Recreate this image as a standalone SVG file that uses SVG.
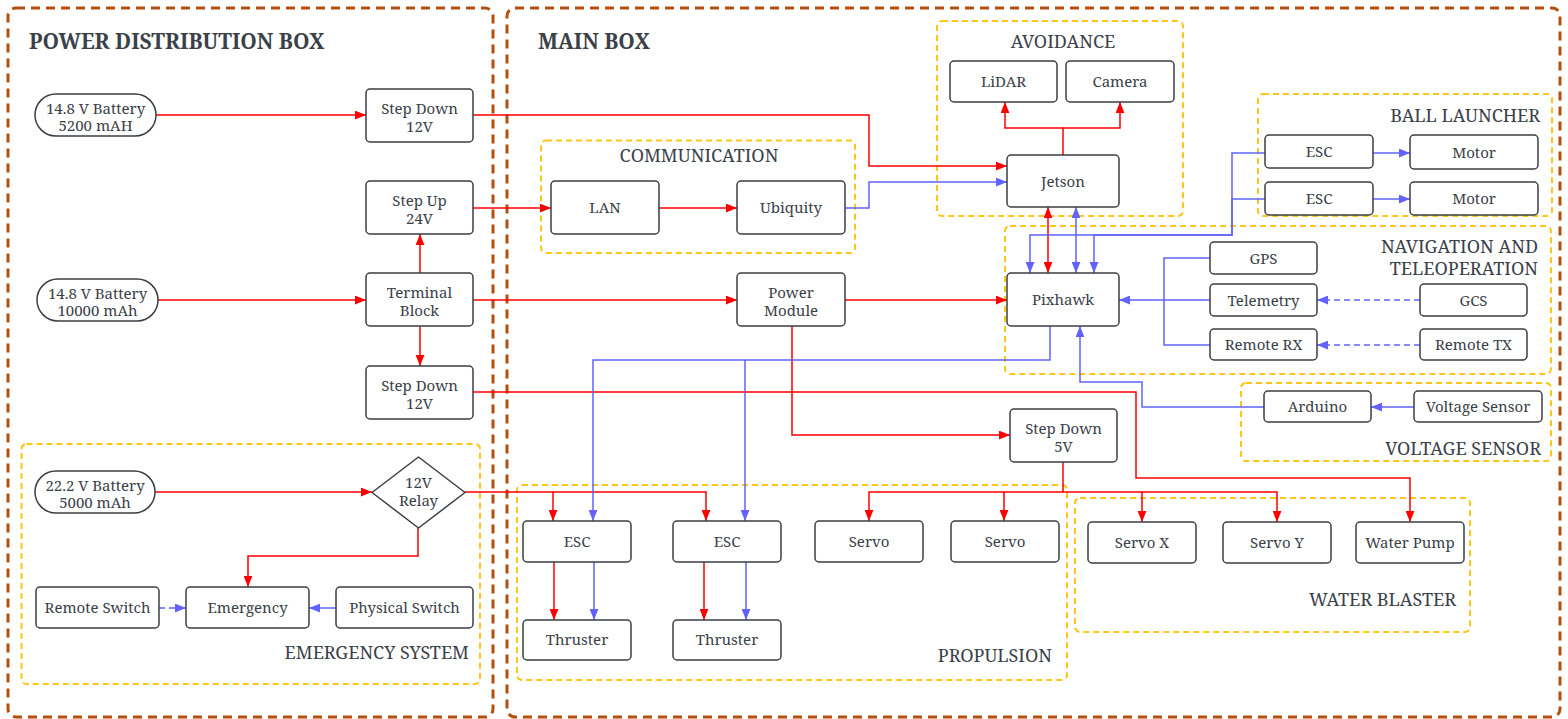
<svg xmlns="http://www.w3.org/2000/svg" width="1568" height="719" viewBox="0 0 1568 719">
<style>
.bg{fill:#ffffff}
.box{fill:#ffffff;stroke:#3a3f46;stroke-width:1.5}
.outer{fill:none;stroke:#b4500f;stroke-width:3;stroke-dasharray:9 6}
.grp{fill:none;stroke:#ffc61a;stroke-width:2;stroke-dasharray:6 4}
text{font-family:"Noto Serif","DejaVu Serif","Liberation Serif",serif;fill:#3b4149}
.t{font-size:15px;text-anchor:middle}
.gl{font-size:18px}
.title{font-size:21px;font-weight:bold}
.r{fill:none;stroke:#ff0000;stroke-width:1.5;marker-end:url(#ar)}
.b{fill:none;stroke:#6262ff;stroke-width:1.5;marker-end:url(#ab)}
.rn{fill:none;stroke:#ff0000;stroke-width:1.5}
.bn{fill:none;stroke:#6262ff;stroke-width:1.5}
.d{stroke-dasharray:6 4}
</style>
<defs>
<marker id="ar" viewBox="0 0 10 8" refX="10" refY="4" markerWidth="11" markerHeight="9" markerUnits="userSpaceOnUse" orient="auto-start-reverse"><path d="M0,0 L10,4 L0,8 z" fill="#ff0000"/></marker>
<marker id="ab" viewBox="0 0 10 8" refX="10" refY="4" markerWidth="11" markerHeight="9" markerUnits="userSpaceOnUse" orient="auto-start-reverse"><path d="M0,0 L10,4 L0,8 z" fill="#6262ff"/></marker>
</defs>
<rect class="bg" x="0" y="0" width="1568" height="719"/>

<g id="containers">
<rect class="outer" x="8" y="8" width="485" height="709" rx="8"/>
<text class="title" x="29" y="49">POWER DISTRIBUTION BOX</text>
<rect class="outer" x="507" y="8" width="1053" height="709" rx="8"/>
<text class="title" x="538" y="49">MAIN BOX</text>
<rect class="grp" x="21.5" y="444" width="458.5" height="240" rx="5"/>
<text class="gl" x="469" y="659" text-anchor="end">EMERGENCY SYSTEM</text>
<rect class="grp" x="541" y="140.5" width="314" height="112.5" rx="5"/>
<text class="gl" x="699" y="162" text-anchor="middle">COMMUNICATION</text>
<rect class="grp" x="937" y="21" width="246" height="195" rx="5"/>
<text class="gl" x="1063" y="48" text-anchor="middle">AVOIDANCE</text>
<rect class="grp" x="1258" y="94" width="294" height="122" rx="5"/>
<text class="gl" x="1540" y="122" text-anchor="end">BALL LAUNCHER</text>
<rect class="grp" x="1005" y="226" width="546" height="148" rx="5"/>
<text class="gl" x="1538" y="253" text-anchor="end">NAVIGATION AND</text>
<text class="gl" x="1538" y="275" text-anchor="end">TELEOPERATION</text>
<rect class="grp" x="1241" y="383" width="310" height="78" rx="5"/>
<text class="gl" x="1541" y="455" text-anchor="end">VOLTAGE SENSOR</text>
<rect class="grp" x="517" y="485" width="550" height="195" rx="5"/>
<text class="gl" x="1052" y="662" text-anchor="end">PROPULSION</text>
<rect class="grp" x="1075" y="498" width="395" height="134" rx="5"/>
<text class="gl" x="1456" y="606" text-anchor="end">WATER BLASTER</text>
</g>

<g id="connectors">
<path class="r" d="M156,115 H366"/>
<path class="r" d="M158,300 H366"/>
<path class="r" d="M420,273 V234"/>
<path class="r" d="M420,326 V366"/>
<path class="r" d="M155,492 H372"/>
<path class="r" d="M418,528 V556 H248 V587"/>
<path class="r" d="M473,115 H869 V166 H1007"/>
<path class="r" d="M473,208 H551"/>
<path class="r" d="M659,208 H737"/>
<path class="r" d="M473,300 H737"/>
<path class="r" d="M845,300 H1007"/>
<path class="r" d="M792,326 V435 H1010"/>
<path class="r" d="M1048,207 V273" marker-start="url(#ar)"/>
<path class="r" d="M1063,155 V128 H1005 V102"/>
<path class="r" d="M1063,128 H1120 V102"/>
<path class="r" d="M465,492 H553 V521"/>
<path class="r" d="M553,492 H706 V521"/>
<path class="r" d="M1063,462 V492 H869 V521"/>
<path class="r" d="M1004,492 V521"/>
<path class="r" d="M1063,492 H1142 V522"/>
<path class="r" d="M1142,492 H1277 V522"/>
<path class="r" d="M473,392 H1136 V478 H1410 V522"/>
<path class="r" d="M554,562 V620"/>
<path class="r" d="M704,562 V620"/>

<path class="b" d="M845,208 H869 V182 H1007"/>
<path class="b" d="M1076,273 V207" marker-start="url(#ab)"/>
<path class="b" d="M1265,153 H1232 V235 H1030 V273"/>
<path class="b" d="M1265,199 H1232 V235 H1094 V273"/>
<path class="bn" d="M1210,258 H1164 V345 H1210"/>
<path class="b" d="M1210,300 H1119"/>
<path class="b d" d="M1420,300 H1317"/>
<path class="b d" d="M1420,345 H1317"/>
<path class="b" d="M1050,326 V360 H593 V521"/>
<path class="b" d="M745,360 V521"/>
<path class="b" d="M1264,407 H1142 V382 H1080 V326"/>
<path class="b" d="M1414,407 H1371"/>
<path class="b" d="M1373,153 H1410"/>
<path class="b" d="M1373,199 H1410"/>
<path class="b" d="M594,562 V620"/>
<path class="b" d="M746,562 V620"/>
<path class="b" d="M336,608 H309"/>
<path class="b d" d="M159,608 H186"/>
</g>

<g id="bat1"><rect class="box" x="35" y="94" width="121" height="42" rx="21"/><text class="t" x="95.5" y="114">14.8 V Battery</text><text class="t" x="95.5" y="131">5200 mAH</text></g>
<g id="sd12a"><rect class="box" x="366" y="89" width="107" height="53" rx="4"/><text class="t" x="419.5" y="114">Step Down</text><text class="t" x="419.5" y="131.5">12V</text></g>
<g id="su24"><rect class="box" x="366" y="181" width="107" height="53" rx="4"/><text class="t" x="419.5" y="206">Step Up</text><text class="t" x="419.5" y="223.5">24V</text></g>
<g id="bat2"><rect class="box" x="37" y="279" width="121" height="42" rx="21"/><text class="t" x="97.5" y="299">14.8 V Battery</text><text class="t" x="97.5" y="316">10000 mAh</text></g>
<g id="tb"><rect class="box" x="366" y="273" width="107" height="53" rx="4"/><text class="t" x="419.5" y="298">Terminal</text><text class="t" x="419.5" y="315.5">Block</text></g>
<g id="sd12b"><rect class="box" x="366" y="366" width="107" height="53" rx="4"/><text class="t" x="419.5" y="391">Step Down</text><text class="t" x="419.5" y="408.5">12V</text></g>
<g id="bat3"><rect class="box" x="35" y="471" width="120" height="42" rx="21"/><text class="t" x="95" y="491">22.2 V Battery</text><text class="t" x="95" y="508">5000 mAh</text></g>
<g id="relay"><path class="box" d="M372,492.5 L418.5,457 L465,492.5 L418.5,528 Z" stroke-linejoin="round"/><text class="t" x="418.5" y="488">12V</text><text class="t" x="418.5" y="505.5">Relay</text></g>
<g id="rsw"><rect class="box" x="36" y="587" width="123" height="41" rx="4"/><text class="t" x="97.5" y="613">Remote Switch</text></g>
<g id="emg"><rect class="box" x="186" y="587" width="123" height="41" rx="4"/><text class="t" x="247.5" y="613">Emergency</text></g>
<g id="psw"><rect class="box" x="336" y="587" width="137" height="41" rx="4"/><text class="t" x="404.5" y="613">Physical Switch</text></g>

<g id="lan"><rect class="box" x="551" y="181" width="108" height="53" rx="4"/><text class="t" x="605" y="213">LAN</text></g>
<g id="ubq"><rect class="box" x="737" y="181" width="108" height="53" rx="4"/><text class="t" x="791" y="213">Ubiquity</text></g>
<g id="pm"><rect class="box" x="737" y="273" width="108" height="53" rx="4"/><text class="t" x="791" y="298">Power</text><text class="t" x="791" y="315.5">Module</text></g>
<g id="lidar"><rect class="box" x="950" y="61" width="107" height="41" rx="4"/><text class="t" x="1003.5" y="87">LiDAR</text></g>
<g id="camera"><rect class="box" x="1066" y="61" width="108" height="41" rx="4"/><text class="t" x="1120" y="87">Camera</text></g>
<g id="jetson"><rect class="box" x="1007" y="155" width="112" height="52" rx="4"/><text class="t" x="1063" y="186.5">Jetson</text></g>
<g id="pixhawk"><rect class="box" x="1007" y="273" width="112" height="53" rx="4"/><text class="t" x="1063" y="305">Pixhawk</text></g>
<g id="esc_bl1"><rect class="box" x="1265" y="135" width="108" height="33" rx="4"/><text class="t" x="1319" y="157">ESC</text></g>
<g id="esc_bl2"><rect class="box" x="1265" y="182" width="108" height="33" rx="4"/><text class="t" x="1319" y="204">ESC</text></g>
<g id="motor1"><rect class="box" x="1410" y="135" width="128" height="34" rx="4"/><text class="t" x="1474" y="157.5">Motor</text></g>
<g id="motor2"><rect class="box" x="1410" y="182" width="128" height="33" rx="4"/><text class="t" x="1474" y="204">Motor</text></g>
<g id="gps"><rect class="box" x="1210" y="242" width="107" height="32" rx="4"/><text class="t" x="1263.5" y="263.5">GPS</text></g>
<g id="telemetry"><rect class="box" x="1210" y="284" width="107" height="32" rx="4"/><text class="t" x="1263.5" y="305.5">Telemetry</text></g>
<g id="remoterx"><rect class="box" x="1210" y="329" width="107" height="31" rx="4"/><text class="t" x="1263.5" y="350">Remote RX</text></g>
<g id="gcs"><rect class="box" x="1420" y="284" width="107" height="32" rx="4"/><text class="t" x="1473.5" y="305.5">GCS</text></g>
<g id="remotetx"><rect class="box" x="1420" y="329" width="107" height="31" rx="4"/><text class="t" x="1473.5" y="350">Remote TX</text></g>
<g id="arduino"><rect class="box" x="1264" y="391" width="107" height="31" rx="4"/><text class="t" x="1317.5" y="412">Arduino</text></g>
<g id="vsensor"><rect class="box" x="1414" y="391" width="128" height="31" rx="4"/><text class="t" x="1478" y="412">Voltage Sensor</text></g>
<g id="sd5"><rect class="box" x="1010" y="409" width="107" height="53" rx="4"/><text class="t" x="1063.5" y="434">Step Down</text><text class="t" x="1063.5" y="451.5">5V</text></g>
<g id="esc1"><rect class="box" x="523" y="521" width="108" height="41" rx="4"/><text class="t" x="577" y="547">ESC</text></g>
<g id="esc2"><rect class="box" x="673" y="521" width="108" height="41" rx="4"/><text class="t" x="727" y="547">ESC</text></g>
<g id="servo1"><rect class="box" x="815" y="521" width="108" height="41" rx="4"/><text class="t" x="869" y="547">Servo</text></g>
<g id="servo2"><rect class="box" x="951" y="521" width="108" height="41" rx="4"/><text class="t" x="1005" y="547">Servo</text></g>
<g id="thr1"><rect class="box" x="523" y="620" width="108" height="40" rx="4"/><text class="t" x="577" y="645">Thruster</text></g>
<g id="thr2"><rect class="box" x="673" y="620" width="108" height="40" rx="4"/><text class="t" x="727" y="645">Thruster</text></g>
<g id="servox"><rect class="box" x="1088" y="522" width="108" height="41" rx="4"/><text class="t" x="1142" y="548">Servo X</text></g>
<g id="servoy"><rect class="box" x="1223" y="522" width="108" height="41" rx="4"/><text class="t" x="1277" y="548">Servo Y</text></g>
<g id="waterpump"><rect class="box" x="1356" y="522" width="108" height="41" rx="4"/><text class="t" x="1410" y="548">Water Pump</text></g>
</svg>
